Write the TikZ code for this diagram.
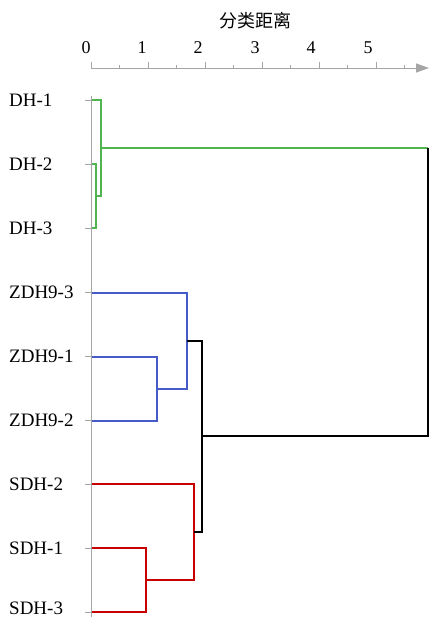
\documentclass[tikz,border=0pt]{standalone}
\usepackage{fontspec}
\setmainfont{Liberation Serif}
\newfontfamily\cjk{Noto Sans CJK SC}
\usetikzlibrary{arrows.meta}
\definecolor{cgreen}{RGB}{80,180,80}
\definecolor{cblue}{RGB}{70,90,200}
\definecolor{cred}{RGB}{200,0,0}
\definecolor{cgray}{RGB}{165,165,165}
\tikzset{
  axisline/.style={draw=cgray, line width=1pt},
  branch/.style={line width=2pt},
  leaflabel/.style={anchor=west, inner sep=0pt, font=\fontsize{19}{19}\selectfont},
  ticklabel/.style={inner sep=0pt, font=\fontsize{18}{18}\selectfont},
}
\begin{document}
\begin{tikzpicture}[x=1pt,y=-1pt]
\useasboundingbox (0,0) rectangle (429,619);
% title
\node[inner sep=0pt, font=\cjk\fontsize{18}{18}\selectfont] (title) at (255,21) {分类距离};
% axis
\coordinate (a0) at (91,68);
\coordinate (aend) at (429,68);
\draw[axisline, -{Triangle[length=13pt,width=9pt]}] (a0) -- (aend);
\foreach \i/\x in {0/91,1/148,2/205,3/262,4/319,5/376}{
  \coordinate (mt\i) at (\x,68);
  \coordinate (mtt\i) at (\x,62);
  \draw[axisline] (mt\i) -- (mtt\i);
}
\foreach \i/\x in {1/119.5,2/176.5,3/233.5,4/290.5,5/347.5,6/404.5}{
  \coordinate (nt\i) at (\x,68);
  \coordinate (ntt\i) at (\x,65);
  \draw[axisline] (nt\i) -- (ntt\i);
}
\node[ticklabel] (t0) at (86,48) {0};
\node[ticklabel] (t1) at (142,48) {1};
\node[ticklabel] (t2) at (198,48) {2};
\node[ticklabel] (t3) at (255,48) {3};
\node[ticklabel] (t4) at (311,48) {4};
\node[ticklabel] (t5) at (368,48) {5};
% vertical axis
\coordinate (v0) at (91,96);
\coordinate (v1) at (91,617);
\draw[axisline] (v0) -- (v1);
% leaves
\foreach \n/\y/\ly/\t in {1/100/100/DH-1,2/164/164/DH-2,3/228/228/DH-3,4/292.5/292.5/ZDH9-3,5/356.5/356.5/ZDH9-1,6/420.5/420.5/ZDH9-2,7/484/484/SDH-2,8/548/548/SDH-1,9/612/608.5/SDH-3}{
  \coordinate (l\n) at (92,\y);
  \coordinate (lt\n) at (85,\y);
  \coordinate (lr\n) at (91,\y);
  \draw[axisline] (lt\n) -- (lr\n);
  \node[leaflabel] (lab\n) at (9,\ly) {\t};
}
% junctions
\coordinate (jA) at (96,196);
\coordinate (jB) at (100.5,148);
\coordinate (jC) at (156.5,388.5);
\coordinate (jD) at (186.5,340.5);
\coordinate (jE) at (146,580);
\coordinate (jF) at (194,532);
\coordinate (jG) at (202,436);
\coordinate (rT) at (427.5,148);
% green
\draw[branch, cgreen] (l2) -| (jA) |- (l3);
\draw[branch, cgreen] (l1) -| (jB) |- (jA);
\draw[branch, cgreen] (jB) -- (rT);
% blue
\draw[branch, cblue] (l5) -| (jC) |- (l6);
\draw[branch, cblue] (l4) -| (jD) |- (jC);
% red
\draw[branch, cred] (l8) -| (jE) |- (l9);
\draw[branch, cred] (l7) -| (jF) |- (jE);
% black
\draw[branch, black] (jD) -| (jG) |- (jF);
\draw[branch, black] (jG) -| (rT);
\end{tikzpicture}
\end{document}
